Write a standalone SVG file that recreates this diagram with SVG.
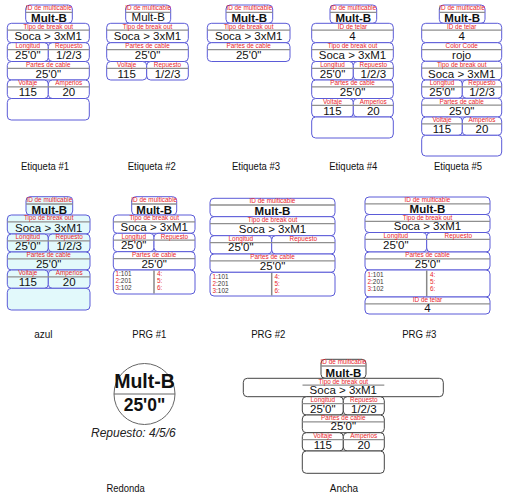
<svg xmlns="http://www.w3.org/2000/svg" width="507" height="500" viewBox="0 0 507 500">
<style>
rect{stroke-width:1}
.r{fill:#fff;stroke:#5b5bd8}
.c{fill:#e2f9fb;stroke:#5b5bd8}
.k{fill:#fff;stroke:#444}
.g{stroke:#8f8f8f;stroke-width:1.3}
.gd{stroke:#888;stroke-width:1.5}
text{font-family:'Liberation Sans',Arial,sans-serif}
.l{font-size:6.4px;fill:#e8262c;text-anchor:middle}
.v{font-size:11.5px;fill:#111;text-anchor:middle}
.vb{font-size:11.5px;font-weight:bold;fill:#111;text-anchor:middle}
.cap{font-size:11.5px;fill:#111;text-anchor:middle}
.s{font-size:6.4px;fill:#333}
.sr{fill:#e8262c}
</style>
<rect width="507" height="500" fill="#fff"/>

<g id="etiqueta-1">
<rect class="r" x="25.7" y="5" width="46.6" height="18.3" rx="4"/>
<line class="g" x1="25.7" y1="12.3" x2="72.3" y2="12.3"/>
<text class="l" x="49" y="10.1">ID de multicable</text>
<text class="vb" x="49" y="22">Mult-B</text>
<rect class="r" x="7.3" y="23.3" width="82" height="19.4" rx="4"/>
<line class="g" x1="7.3" y1="30.2" x2="89.3" y2="30.2"/>
<text class="l" x="48.3" y="28.6">Tipo de break out</text>
<text class="v" x="48.3" y="40.2">Soca &gt; 3xM1</text>
<rect class="r" x="7.3" y="42.7" width="41" height="18.8" rx="4"/>
<rect class="r" x="48.3" y="42.7" width="41" height="18.8" rx="4"/>
<line class="g" x1="7.3" y1="49.6" x2="89.3" y2="49.6"/>
<text class="l" x="27.8" y="48">Longitud</text>
<text class="l" x="68.8" y="48">Repuesto</text>
<text class="v" x="27.8" y="59">25'0"</text>
<text class="v" x="68.8" y="59">1/2/3</text>
<rect class="r" x="7.3" y="61.5" width="82" height="18.5" rx="4"/>
<line class="g" x1="7.3" y1="68.4" x2="89.3" y2="68.4"/>
<text class="l" x="48.3" y="66.8">Partes de cable</text>
<text class="v" x="48.3" y="77.5">25'0"</text>
<rect class="r" x="7.3" y="80" width="41" height="18.5" rx="4"/>
<rect class="r" x="48.3" y="80" width="41" height="18.5" rx="4"/>
<line class="g" x1="7.3" y1="86.9" x2="89.3" y2="86.9"/>
<text class="l" x="27.8" y="85.3">Voltaje</text>
<text class="l" x="68.8" y="85.3">Amperios</text>
<text class="v" x="27.8" y="96">115</text>
<text class="v" x="68.8" y="96">20</text>
<rect class="r" x="7.3" y="98.5" width="82" height="21.5" rx="4"/>
</g>

<g id="etiqueta-2">
<rect class="r" x="125.7" y="5" width="45" height="18.3" rx="4"/>
<line class="g" x1="125.7" y1="12.3" x2="170.7" y2="12.3"/>
<text class="l" x="148.2" y="10.1">ID de multicable</text>
<text class="v" x="148.2" y="21.4">Mult-B</text>
<rect class="r" x="106.7" y="23.3" width="81.6" height="19.4" rx="4"/>
<line class="g" x1="106.7" y1="30.2" x2="188.3" y2="30.2"/>
<text class="l" x="147.5" y="28.8">Tipo de break out</text>
<text class="v" x="147.5" y="40.2">Soca &gt; 3xM1</text>
<rect class="r" x="106.7" y="42.7" width="81.6" height="18.8" rx="4"/>
<line class="g" x1="106.7" y1="49.6" x2="188.3" y2="49.6"/>
<text class="l" x="147.5" y="48">Partes de cable</text>
<text class="v" x="147.5" y="59">25'0"</text>
<rect class="r" x="106.7" y="61.5" width="40" height="18.5" rx="4"/>
<rect class="r" x="146.7" y="61.5" width="41.6" height="18.5" rx="4"/>
<line class="g" x1="106.7" y1="68.4" x2="188.3" y2="68.4"/>
<text class="l" x="126.7" y="66.8">Voltaje</text>
<text class="l" x="167.5" y="66.8">Repuesto</text>
<text class="v" x="126.7" y="77.5">115</text>
<text class="v" x="167.5" y="77.5">1/2/3</text>
</g>

<g id="etiqueta-3">
<rect class="r" x="226" y="5" width="46.7" height="18.3" rx="4"/>
<line class="g" x1="226" y1="12.3" x2="272.7" y2="12.3"/>
<text class="l" x="249.3" y="10.1">ID de multicable</text>
<text class="vb" x="249.3" y="22">Mult-B</text>
<rect class="r" x="207.3" y="23.3" width="82.7" height="19.4" rx="4"/>
<line class="g" x1="207.3" y1="30.2" x2="290" y2="30.2"/>
<text class="l" x="248.7" y="28.6">Tipo de break out</text>
<text class="v" x="248.7" y="40.2">Soca &gt; 3xM1</text>
<rect class="r" x="207.3" y="42.7" width="82.7" height="18.8" rx="4"/>
<line class="g" x1="207.3" y1="49.6" x2="290" y2="49.6"/>
<text class="l" x="248.7" y="48">Partes de cable</text>
<text class="v" x="248.7" y="59">25'0"</text>
</g>

<g id="etiqueta-4">
<rect class="r" x="330" y="5" width="46.7" height="18.3" rx="4"/>
<line class="g" x1="330" y1="12.3" x2="376.7" y2="12.3"/>
<text class="l" x="353.3" y="10.1">ID de multicable</text>
<text class="vb" x="353.3" y="22">Mult-B</text>
<rect class="r" x="311.7" y="23.3" width="81.6" height="19.4" rx="4"/>
<line class="g" x1="311.7" y1="30.2" x2="393.3" y2="30.2"/>
<text class="l" x="352.5" y="28.6">ID de telar</text>
<text class="v" x="352.5" y="40.2">4</text>
<rect class="r" x="311.7" y="42.7" width="81.6" height="18.8" rx="4"/>
<line class="g" x1="311.7" y1="49.6" x2="393.3" y2="49.6"/>
<text class="l" x="352.5" y="48">Tipo de break out</text>
<text class="v" x="352.5" y="59">Soca &gt; 3xM1</text>
<rect class="r" x="311.7" y="61.5" width="41.6" height="18.5" rx="4"/>
<rect class="r" x="353.3" y="61.5" width="40" height="18.5" rx="4"/>
<line class="g" x1="311.7" y1="68.4" x2="393.3" y2="68.4"/>
<text class="l" x="332.5" y="66.8">Longitud</text>
<text class="l" x="373.3" y="66.8">Repuesto</text>
<text class="v" x="332.5" y="77.5">25'0"</text>
<text class="v" x="373.3" y="77.5">1/2/3</text>
<rect class="r" x="311.7" y="80" width="81.6" height="18.5" rx="4"/>
<line class="g" x1="311.7" y1="86.9" x2="393.3" y2="86.9"/>
<text class="l" x="352.5" y="85.3">Partes de cable</text>
<text class="v" x="352.5" y="96">25'0"</text>
<rect class="r" x="311.7" y="98.5" width="41.6" height="18.5" rx="4"/>
<rect class="r" x="353.3" y="98.5" width="40" height="18.5" rx="4"/>
<line class="g" x1="311.7" y1="105.4" x2="393.3" y2="105.4"/>
<text class="l" x="332.5" y="103.8">Voltaje</text>
<text class="l" x="373.3" y="103.8">Amperios</text>
<text class="v" x="332.5" y="114.5">115</text>
<text class="v" x="373.3" y="114.5">20</text>
<rect class="r" x="311.7" y="117" width="81.6" height="21" rx="4"/>
</g>

<g id="etiqueta-5">
<rect class="r" x="439.3" y="5" width="45.7" height="18.3" rx="4"/>
<line class="g" x1="439.3" y1="12.3" x2="485" y2="12.3"/>
<text class="l" x="462.2" y="10.1">ID de multicable</text>
<text class="vb" x="462.2" y="22">Mult-B</text>
<rect class="r" x="421.7" y="23.3" width="80" height="19.4" rx="4"/>
<line class="g" x1="421.7" y1="30.2" x2="501.7" y2="30.2"/>
<text class="l" x="461.7" y="28.6">ID de telar</text>
<text class="v" x="461.7" y="40.2">4</text>
<rect class="r" x="421.7" y="42.7" width="80" height="18.6" rx="4"/>
<line class="g" x1="421.7" y1="49.6" x2="501.7" y2="49.6"/>
<text class="l" x="461.7" y="48">Color Code</text>
<text class="v" x="461.7" y="58.8">rojo</text>
<rect class="r" x="421.7" y="61.3" width="80" height="18.7" rx="4"/>
<line class="g" x1="421.7" y1="68.2" x2="501.7" y2="68.2"/>
<text class="l" x="461.7" y="66.6">Tipo de break out</text>
<text class="v" x="461.7" y="77.5">Soca &gt; 3xM1</text>
<rect class="r" x="421.7" y="80" width="40.6" height="18.3" rx="4"/>
<rect class="r" x="462.3" y="80" width="39.4" height="18.3" rx="4"/>
<line class="g" x1="421.7" y1="86.9" x2="501.7" y2="86.9"/>
<text class="l" x="442" y="85.3">Longitud</text>
<text class="l" x="482" y="85.3">Repuesto</text>
<text class="v" x="442" y="95.8">25'0"</text>
<text class="v" x="482" y="95.8">1/2/3</text>
<rect class="r" x="421.7" y="98.3" width="80" height="18.7" rx="4"/>
<line class="g" x1="421.7" y1="105.2" x2="501.7" y2="105.2"/>
<text class="l" x="461.7" y="103.6">Partes de cable</text>
<text class="v" x="461.7" y="114.5">25'0"</text>
<rect class="r" x="421.7" y="117" width="40.6" height="18.3" rx="4"/>
<rect class="r" x="462.3" y="117" width="39.4" height="18.3" rx="4"/>
<line class="g" x1="421.7" y1="123.9" x2="501.7" y2="123.9"/>
<text class="l" x="442" y="122.3">Voltaje</text>
<text class="l" x="482" y="122.3">Amperios</text>
<text class="v" x="442" y="132.8">115</text>
<text class="v" x="482" y="132.8">20</text>
<rect class="r" x="421.7" y="135.3" width="80" height="20.7" rx="4"/>
</g>

<g id="azul">
<rect class="c" x="26" y="196.7" width="46.7" height="18.3" rx="4"/>
<line class="g" x1="26" y1="204" x2="72.7" y2="204"/>
<text class="l" x="49.3" y="201.8">ID de multicable</text>
<text class="vb" x="49.3" y="213.7">Mult-B</text>
<rect class="c" x="7.3" y="215" width="82.7" height="19" rx="4"/>
<line class="g" x1="7.3" y1="221.9" x2="90" y2="221.9"/>
<text class="l" x="48.7" y="220.3">Tipo de break out</text>
<text class="v" x="48.7" y="231.5">Soca &gt; 3xM1</text>
<rect class="c" x="7.3" y="234" width="41" height="18" rx="4"/>
<rect class="c" x="48.3" y="234" width="41.7" height="18" rx="4"/>
<line class="g" x1="7.3" y1="240.9" x2="90" y2="240.9"/>
<text class="l" x="27.8" y="239.3">Longitud</text>
<text class="l" x="69.2" y="239.3">Repuesto</text>
<text class="v" x="27.8" y="249.5">25'0"</text>
<text class="v" x="69.2" y="249.5">1/2/3</text>
<rect class="c" x="7.3" y="252" width="82.7" height="18" rx="4"/>
<line class="g" x1="7.3" y1="258.9" x2="90" y2="258.9"/>
<text class="l" x="48.7" y="257.3">Partes de cable</text>
<text class="v" x="48.7" y="267.5">25'0"</text>
<rect class="c" x="7.3" y="270" width="41" height="18.3" rx="4"/>
<rect class="c" x="48.3" y="270" width="41.7" height="18.3" rx="4"/>
<line class="g" x1="7.3" y1="276.9" x2="90" y2="276.9"/>
<text class="l" x="27.8" y="275.3">Voltaje</text>
<text class="l" x="69.2" y="275.3">Amperios</text>
<text class="v" x="27.8" y="285.8">115</text>
<text class="v" x="69.2" y="285.8">20</text>
<rect class="c" x="7.3" y="288.3" width="82.7" height="21.7" rx="4"/>
</g>

<g id="prg-1">
<rect class="r" x="131.7" y="196.7" width="45" height="18.3" rx="4"/>
<line class="g" x1="131.7" y1="204" x2="176.7" y2="204"/>
<text class="l" x="154.2" y="201.8">ID de multicable</text>
<text class="vb" x="154.2" y="213.7">Mult-B</text>
<rect class="r" x="113.3" y="215" width="81.7" height="18.3" rx="4"/>
<line class="g" x1="113.3" y1="221.9" x2="195" y2="221.9"/>
<text class="l" x="154.2" y="220.3">Tipo de break out</text>
<text class="v" x="154.2" y="230.8">Soca &gt; 3xM1</text>
<rect class="r" x="113.3" y="233.3" width="40.7" height="18.4" rx="4"/>
<rect class="r" x="154" y="233.3" width="41" height="18.4" rx="4"/>
<line class="g" x1="113.3" y1="240.2" x2="195" y2="240.2"/>
<text class="l" x="133.7" y="238.6">Longitud</text>
<text class="l" x="174.5" y="238.6">Repuesto</text>
<text class="v" x="133.7" y="248.7">25'0"</text>
<rect class="r" x="113.3" y="251.7" width="81.7" height="18.3" rx="4"/>
<line class="g" x1="113.3" y1="258.6" x2="195" y2="258.6"/>
<text class="l" x="154.2" y="257">Partes de cable</text>
<text class="v" x="154.2" y="267.5">25'0"</text>
<rect class="r" x="113.3" y="270" width="81.7" height="24" rx="4"/>
<line class="gd" x1="154" y1="270.5" x2="154" y2="293.5"/>
<text class="s" x="115.5" y="276.3"><tspan class="sr">1</tspan>:101</text>
<text class="s" x="115.5" y="283.3"><tspan class="sr">2</tspan>:201</text>
<text class="s" x="115.5" y="290.3"><tspan class="sr">3</tspan>:102</text>
<text class="s sr" x="157" y="276.3">4:</text>
<text class="s sr" x="157" y="283.3">5:</text>
<text class="s sr" x="157" y="290.3">6:</text>
</g>

<g id="prg-2">
<rect class="r" x="210" y="198.3" width="125" height="18.4" rx="4"/>
<line class="g" x1="210" y1="205" x2="335" y2="205"/>
<text class="l" x="272.5" y="203.3">ID de multicable</text>
<text class="vb" x="272.5" y="215.2">Mult-B</text>
<rect class="r" x="210" y="216.7" width="125" height="19" rx="4"/>
<line class="g" x1="210" y1="223.6" x2="335" y2="223.6"/>
<text class="l" x="272.5" y="222">Tipo de break out</text>
<text class="v" x="272.5" y="233.2">Soca &gt; 3xM1</text>
<rect class="r" x="210" y="235.7" width="61.7" height="18.3" rx="4"/>
<rect class="r" x="271.7" y="235.7" width="63.3" height="18.3" rx="4"/>
<line class="g" x1="210" y1="242.6" x2="335" y2="242.6"/>
<text class="l" x="240.8" y="241">Longitud</text>
<text class="l" x="303.3" y="241">Repuesto</text>
<text class="v" x="240.8" y="251">25'0"</text>
<rect class="r" x="210" y="254" width="125" height="18.3" rx="4"/>
<line class="g" x1="210" y1="260.9" x2="335" y2="260.9"/>
<text class="l" x="272.5" y="259.3">Partes de cable</text>
<text class="v" x="272.5" y="269.8">25'0"</text>
<rect class="r" x="210" y="272.3" width="125" height="23.7" rx="4"/>
<line class="gd" x1="271.7" y1="272.8" x2="271.7" y2="295.5"/>
<text class="s" x="212.5" y="278.6"><tspan class="sr">1</tspan>:101</text>
<text class="s" x="212.5" y="285.6"><tspan class="sr">2</tspan>:201</text>
<text class="s" x="212.5" y="292.6"><tspan class="sr">3</tspan>:102</text>
<text class="s sr" x="274.5" y="278.6">4:</text>
<text class="s sr" x="274.5" y="285.6">5:</text>
<text class="s sr" x="274.5" y="292.6">6:</text>
</g>

<g id="prg-3">
<rect class="r" x="365" y="197" width="125" height="17.5" rx="4"/>
<line class="g" x1="365" y1="203.8" x2="490" y2="203.8"/>
<text class="l" x="427.5" y="201.8">ID de multicable</text>
<text class="vb" x="427.5" y="213.2">Mult-B</text>
<rect class="r" x="365" y="214.5" width="125" height="18" rx="4"/>
<line class="g" x1="365" y1="221.4" x2="490" y2="221.4"/>
<text class="l" x="427.5" y="219.8">Tipo de break out</text>
<text class="v" x="427.5" y="230.3">Soca &gt; 3xM1</text>
<rect class="r" x="365" y="232.5" width="61.7" height="19.5" rx="4"/>
<rect class="r" x="426.7" y="232.5" width="63.3" height="19.5" rx="4"/>
<line class="g" x1="365" y1="239.4" x2="490" y2="239.4"/>
<text class="l" x="395.8" y="237.8">Longitud</text>
<text class="l" x="458.3" y="237.8">Repuesto</text>
<text class="v" x="395.8" y="249">25'0"</text>
<rect class="r" x="365" y="252" width="125" height="18" rx="4"/>
<line class="g" x1="365" y1="258.9" x2="490" y2="258.9"/>
<text class="l" x="427.5" y="257.3">Partes de cable</text>
<text class="v" x="427.5" y="267.7">25'0"</text>
<rect class="r" x="365" y="270" width="125" height="27" rx="4"/>
<line class="gd" x1="426.7" y1="270.5" x2="426.7" y2="296.5"/>
<text class="s" x="367.5" y="277"><tspan class="sr">1</tspan>:101</text>
<text class="s" x="367.5" y="284"><tspan class="sr">2</tspan>:201</text>
<text class="s" x="367.5" y="291"><tspan class="sr">3</tspan>:102</text>
<text class="s sr" x="430" y="277">4:</text>
<text class="s sr" x="430" y="284">5:</text>
<text class="s sr" x="430" y="291">6:</text>
<rect class="r" x="365" y="297" width="125" height="17" rx="4"/>
<line class="g" x1="365" y1="303.9" x2="490" y2="303.9"/>
<text class="l" x="427.5" y="302.3">ID de telar</text>
<text class="v" x="427.5" y="311.8">4</text>
</g>

<g id="redonda">
<circle cx="144.5" cy="394" r="30.5" fill="#fff" stroke="#666" stroke-width="1"/>
<line x1="114" y1="394" x2="175" y2="394" stroke="#666" stroke-width="1"/>
<text x="144.5" y="388" style="font-size:19.5px;font-weight:bold;fill:#111;text-anchor:middle">Mult-B</text>
<text x="144.5" y="411" style="font-size:17.5px;font-weight:bold;fill:#111;text-anchor:middle">25'0"</text>
<text x="91" y="437" style="font-size:12px;font-style:italic;fill:#222">Repuesto: 4/5/6</text>
</g>

<g id="ancha">
<rect class="k" x="321" y="359.3" width="45" height="19" rx="4"/>
<line class="g" x1="321" y1="366" x2="366" y2="366"/>
<text class="l" x="343.5" y="364.2">ID de multicable</text>
<text class="vb" x="343.5" y="376.6">Mult-B</text>
<rect class="k" x="243.3" y="378.3" width="200" height="18.4" rx="4"/>
<line class="g" x1="302.5" y1="385.2" x2="384.3" y2="385.2"/>
<text class="l" x="343.3" y="383.6">Tipo de break out</text>
<text class="v" x="343.3" y="394.2">Soca &gt; 3xM1</text>
<rect class="k" x="302.3" y="396.7" width="41" height="18.3" rx="4"/>
<rect class="k" x="343.3" y="396.7" width="41" height="18.3" rx="4"/>
<line class="g" x1="302.3" y1="403.6" x2="384.3" y2="403.6"/>
<text class="l" x="322.8" y="402">Longitud</text>
<text class="l" x="363.8" y="402">Repuesto</text>
<text class="v" x="322.8" y="412.5">25'0"</text>
<text class="v" x="363.8" y="412.5">1/2/3</text>
<rect class="k" x="302.3" y="415" width="82" height="17.7" rx="4"/>
<line class="g" x1="302.3" y1="421.9" x2="384.3" y2="421.9"/>
<text class="l" x="343.3" y="420.3">Partes de cable</text>
<text class="v" x="343.3" y="430.4">25'0"</text>
<rect class="k" x="302.3" y="432.7" width="41" height="18.3" rx="4"/>
<rect class="k" x="343.3" y="432.7" width="41" height="18.3" rx="4"/>
<line class="g" x1="302.3" y1="439.6" x2="384.3" y2="439.6"/>
<text class="l" x="322.8" y="438">Voltaje</text>
<text class="l" x="363.8" y="438">Amperios</text>
<text class="v" x="322.8" y="448.5">115</text>
<text class="v" x="363.8" y="448.5">20</text>
<rect class="k" x="302.3" y="451" width="82" height="22.3" rx="4"/>
</g>

<g id="captions">
<text class="cap" x="45" y="170" textLength="48" lengthAdjust="spacingAndGlyphs">Etiqueta #1</text>
<text class="cap" x="151.7" y="170" textLength="48" lengthAdjust="spacingAndGlyphs">Etiqueta #2</text>
<text class="cap" x="256" y="170" textLength="48" lengthAdjust="spacingAndGlyphs">Etiqueta #3</text>
<text class="cap" x="353.3" y="170" textLength="48" lengthAdjust="spacingAndGlyphs">Etiqueta #4</text>
<text class="cap" x="458" y="170" textLength="48" lengthAdjust="spacingAndGlyphs">Etiqueta #5</text>
<text class="cap" x="43.3" y="338" textLength="18.3" lengthAdjust="spacingAndGlyphs">azul</text>
<text class="cap" x="149.3" y="338" textLength="34" lengthAdjust="spacingAndGlyphs">PRG #1</text>
<text class="cap" x="268.3" y="338" textLength="34.3" lengthAdjust="spacingAndGlyphs">PRG #2</text>
<text class="cap" x="419.3" y="338" textLength="34.3" lengthAdjust="spacingAndGlyphs">PRG #3</text>
<text class="cap" x="125.7" y="492" textLength="38.3" lengthAdjust="spacingAndGlyphs">Redonda</text>
<text class="cap" x="344" y="492" textLength="28.3" lengthAdjust="spacingAndGlyphs">Ancha</text>
</g>
</svg>
